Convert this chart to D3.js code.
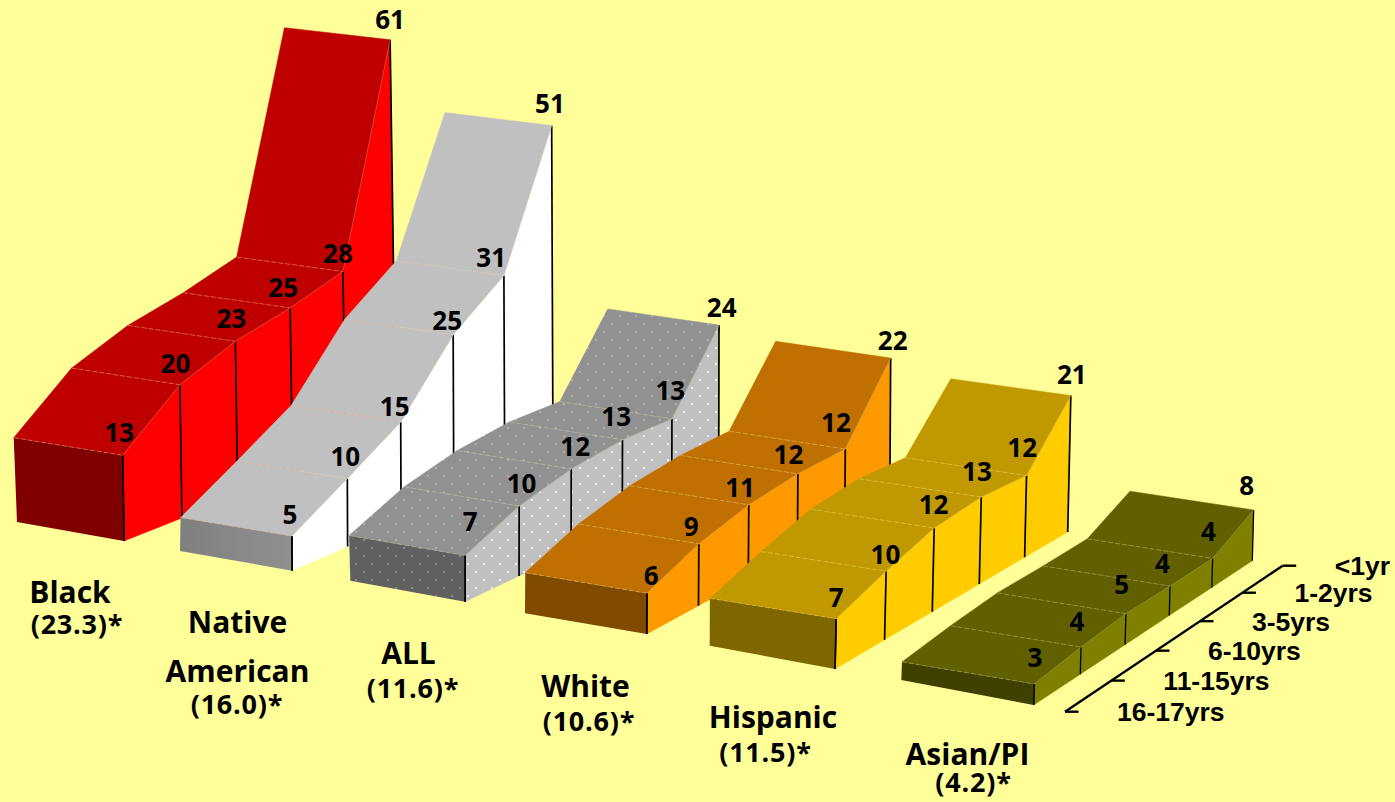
<!DOCTYPE html>
<html><head><meta charset="utf-8">
<script src="https://cdn.jsdelivr.net/npm/d3@7/dist/d3.min.js"></script>
<style>html,body{margin:0;padding:0;background:#ffff99;overflow:hidden}svg{display:block}
text{font-family:"Open Sans",sans-serif;font-weight:700;fill:#000}
.tick{font-family:"Liberation Sans",Arial,sans-serif}</style>
</head><body><svg id="c" width="1395" height="802"></svg>
<script>
// ---- data (front to back along the age axis) ----
const ageCategories = ["16-17yrs","11-15yrs","6-10yrs","3-5yrs","1-2yrs","<1yr"];
const seriesNames = [["Black"],["Native","American"],["ALL"],["White"],["Hispanic"],["Asian/PI"]];
const seriesRates = ["(23.3)*","(16.0)*","(11.6)*","(10.6)*","(11.5)*","(4.2)*"];
const black    = [12.6,19.6,22.9,24.8,27.5,60.5];
const native   = [5.1,10.0,15.0,24.7,30.7,51.0];
const allRaces = [6.8,10.3,12.2,13.0,12.8,24.0];
const white    = [6.0,9.1,10.9,11.6,11.6,22.0];
const hispanic = [7.4,10.1,12.4,13.0,12.4,21.0];
const asianPI  = [3.1,4.0,4.6,4.4,4.4,7.8];
const seriesValues = [black,native,allRaces,white,hispanic,asianPI];

// ---- styles ----
const topColors   = ["#bf0000","#c0c0c0","#919191","#c07000","#c09900","#606000"];
const sideColors  = ["#ff0000","#ffffff","#c0c0c0","#ff9900","#ffcc00","#808000"];
const frontColors = ["#800000","url(#nativeFront)","#606060","#804b00","#806600","#404000"];
const dashColors  = ["#e8a878","#e8c8b0","#c8c8a0","#e8c080","#e8d070","#b0b080"];

// ---- projection scales ----
const idx = d3.range(6);
const depth   = d3.scaleLinear().domain(idx).range([0,.213,.418,.62,.815,1]);     // foreshortened age axis
const unit    = d3.scaleLinear().domain(idx).range([6.8,6.8,6.75,6.7,6.6,6.5]);   // px per unit of value
const frontX  = d3.scaleLinear().domain(idx).range([124,292,465,646.7,835,1033.7]);
const frontY  = d3.scaleLinear().domain(idx).range([541,570.7,601.7,634,669,705]);
const backX   = d3.scaleLinear().domain(idx).range([396,553,718.7,889.8,1067.7,1252.3]);
const backY   = d3.scaleLinear().domain(idx).range([433,457,481,501,532,560.7]);
const lean    = d3.scaleLinear().domain(idx).range([-.015,-.004,.002,.006,.023,.027]);
const widthFront = d3.scaleLinear().domain(idx).range([109,111.3,116,121.7,126.3,132.3]);
const widthBack  = d3.scaleLinear().domain(idx).range([105.7,106.7,111.3,115,120,123.7]);
const riseBase   = d3.scaleLinear().domain(idx).range([18.4,18.7,20.4,20.9,20.8,22.2]);
const baseLeftX  = d3.scaleLinear().domain(idx).range([107,112,114.7,121.7,125.3,132.4]);
const baseLeftY  = d3.scaleLinear().domain(idx).range([19,19.7,21,20.7,23.3,25]);

const groundPt = (s,a)=>{const f=depth(a);return [frontX(s)+(backX(s)-frontX(s))*f, frontY(s)+(backY(s)-frontY(s))*f];};
const heightOf = (s,a)=>seriesValues[s][a]*unit(a);
const topPt = (s,a)=>{const g=groundPt(s,a),h=heightOf(s,a);return [g[0]+lean(s)*h,g[1]-h];};
const leftPt = (s,a)=>{const t=topPt(s,a),f=depth(a),h=heightOf(s,a);
  return [t[0]-(widthFront(s)+(widthBack(s)-widthFront(s))*f), t[1]-riseBase(s)+.0084*h+3*f];};

// label layout nudges (px) relative to each ribbon corner
const labelDx=[[-3.5,-4.5,-4,-7,-5,0],[-2,-2,-6,-6,-12.7,-1.7],[5,2.4,4,-6.3,-1.6,2.7],[4.3,-7.6,-8.7,-9.4,-9.3,2],[0,-.7,-.7,-4.3,-4.4,1],[.7,-4,-4.3,-7.6,-4.3,-7]];
const labelDy=[[-13,-11.7,-13.3,-11,-8,-10.5],[-12,-12,-6,-5,-8,-13],[-24,-13.3,-13,-13.6,-18.4,-7.7],[-8.3,-7.3,-8.3,-9.7,-17.3,-8],[-11.7,-7,-13.7,-15.7,-18.6,-12],[-17,-16,-20,-12.7,-17.3,-15]];
const nameLayout=[
 {x:70,ys:[603.3],ry:634,rx:77},{x:237.5,ys:[632.7,681.7],ry:714,rx:237},{x:408.5,ys:[664.3],ry:698,rx:413},
 {x:585.5,ys:[696.7],ry:730.7,rx:589},{x:773,ys:[728.3],ry:761.7,rx:765.5},{x:967.5,ys:[765],ry:791.7,rx:973.5}];

const svg=d3.select("#c");
svg.append("rect").attr("width",1395).attr("height",802).attr("fill","#ffff99");
const defs=svg.append("defs");
const lg=defs.append("linearGradient").attr("id","nativeFront");
lg.append("stop").attr("offset",0).attr("stop-color","#7f7f7f");
lg.append("stop").attr("offset",1).attr("stop-color","#909090");
[["dotsFaint",.33],["dotsBright",.95]].forEach(([id,op])=>{
  const p=defs.append("pattern").attr("id",id).attr("width",16).attr("height",16).attr("patternUnits","userSpaceOnUse");
  [[4,4],[12,12]].forEach(c=>p.append("circle").attr("cx",c[0]).attr("cy",c[1]).attr("r",1.1).attr("fill","#fff").attr("opacity",op));
});
const path=d3.line();
const segs=d3.range(5);

idx.forEach(s=>{
  const g=svg.append("g").attr("class","series");
  const dotted=s===2;
  // right-hand side faces
  const sidePoly=a=>path([topPt(s,a),topPt(s,a+1),groundPt(s,a+1),groundPt(s,a)])+"Z";
  g.selectAll(".side").data(segs).join("path").attr("class","side").attr("d",sidePoly)
    .attr("fill",sideColors[s]).attr("stroke",sideColors[s]).attr("stroke-width",.5);
  if(dotted) g.selectAll(".sideDots").data(segs).join("path").attr("class","sideDots").attr("d",sidePoly).attr("fill","url(#dotsBright)");
  // age posts
  g.selectAll(".post").data(idx).join("line").attr("class","post")
    .attr("x1",a=>topPt(s,a)[0]).attr("y1",a=>topPt(s,a)[1])
    .attr("x2",a=>groundPt(s,a)[0]).attr("y2",a=>groundPt(s,a)[1])
    .attr("stroke","#000").attr("stroke-width",s===5?1.3:1.7);
  // top faces
  const topPoly=a=>path([leftPt(s,a),topPt(s,a),topPt(s,a+1),leftPt(s,a+1)])+"Z";
  g.selectAll(".topface").data(segs).join("path").attr("class","topface").attr("d",topPoly)
    .attr("fill",topColors[s]).attr("stroke",topColors[s]).attr("stroke-width",.5);
  if(dotted) g.selectAll(".topDots").data(segs).join("path").attr("class","topDots").attr("d",topPoly).attr("fill","url(#dotsFaint)");
  // front face
  const frontPoly=path([leftPt(s,0),topPt(s,0),groundPt(s,0),[groundPt(s,0)[0]-baseLeftX(s),groundPt(s,0)[1]-baseLeftY(s)]])+"Z";
  g.append("path").attr("d",frontPoly).attr("fill",frontColors[s]);
  if(dotted) g.append("path").attr("d",frontPoly).attr("fill","url(#dotsFaint)");
  g.append("line").attr("x1",topPt(s,0)[0]).attr("y1",topPt(s,0)[1]).attr("x2",groundPt(s,0)[0]).attr("y2",groundPt(s,0)[1])
    .attr("stroke","#000").attr("stroke-width",s===5?1.3:1.7);
  // dashed separators across the top
  g.selectAll(".sep").data(d3.range(5)).join("line").attr("class","sep")
    .attr("x1",a=>leftPt(s,a)[0]).attr("y1",a=>leftPt(s,a)[1])
    .attr("x2",a=>topPt(s,a)[0]).attr("y2",a=>topPt(s,a)[1])
    .attr("stroke",dashColors[s]).attr("stroke-width",.7).attr("stroke-dasharray","5,2").attr("opacity",.75);
  // pale crease along the top/side edge
  g.selectAll(".crease").data(segs).join("line").attr("class","crease")
    .attr("x1",a=>topPt(s,a)[0]).attr("y1",a=>topPt(s,a)[1])
    .attr("x2",a=>topPt(s,a+1)[0]).attr("y2",a=>topPt(s,a+1)[1])
    .attr("stroke",dashColors[s]).attr("stroke-width",.5).attr("opacity",.7);
});

// value labels
const fmt=d3.format(".0f");
idx.forEach(s=>{
  svg.append("g").selectAll("text").data(idx).join("text")
    .attr("x",a=>topPt(s,a)[0]+labelDx[s][a]).attr("y",a=>topPt(s,a)[1]+labelDy[s][a])
    .attr("text-anchor","middle").attr("font-size",26).text(a=>fmt(seriesValues[s][a]));
});

// series names + rates
idx.forEach(s=>{
  const L=nameLayout[s];
  seriesNames[s].forEach((n,i)=>svg.append("text").attr("x",L.x).attr("y",L.ys[i]).attr("text-anchor","middle").attr("font-size",30).text(n));
  svg.append("text").attr("x",L.rx).attr("y",L.ry).attr("text-anchor","middle").attr("font-size",27).attr("letter-spacing",.8).text(seriesRates[s]);
});

// age axis
const axisX=d3.scaleLinear().domain([0,1]).range([1065,1282.7]);
const axisY=d3.scaleLinear().domain([0,1]).range([711.7,565.7]);
const ax=svg.append("g");
ax.append("line").attr("x1",axisX(0)).attr("y1",axisY(0)).attr("x2",axisX(1)).attr("y2",axisY(1)).attr("stroke","#000").attr("stroke-width",2.4);
ax.selectAll(".tk").data(idx).join("line").attr("class","tk")
  .attr("x1",a=>axisX(depth(a))).attr("y1",a=>axisY(depth(a)))
  .attr("x2",a=>axisX(depth(a))+13.5).attr("y2",a=>axisY(depth(a)))
  .attr("stroke","#000").attr("stroke-width",2.4);
ax.selectAll("text").data(idx).join("text").attr("class","tick")
  .attr("x",a=>axisX(depth(a))+52).attr("y",a=>axisY(depth(a))+9.5)
  .attr("font-size",26.5).text(a=>ageCategories[a]);
</script></body></html>
